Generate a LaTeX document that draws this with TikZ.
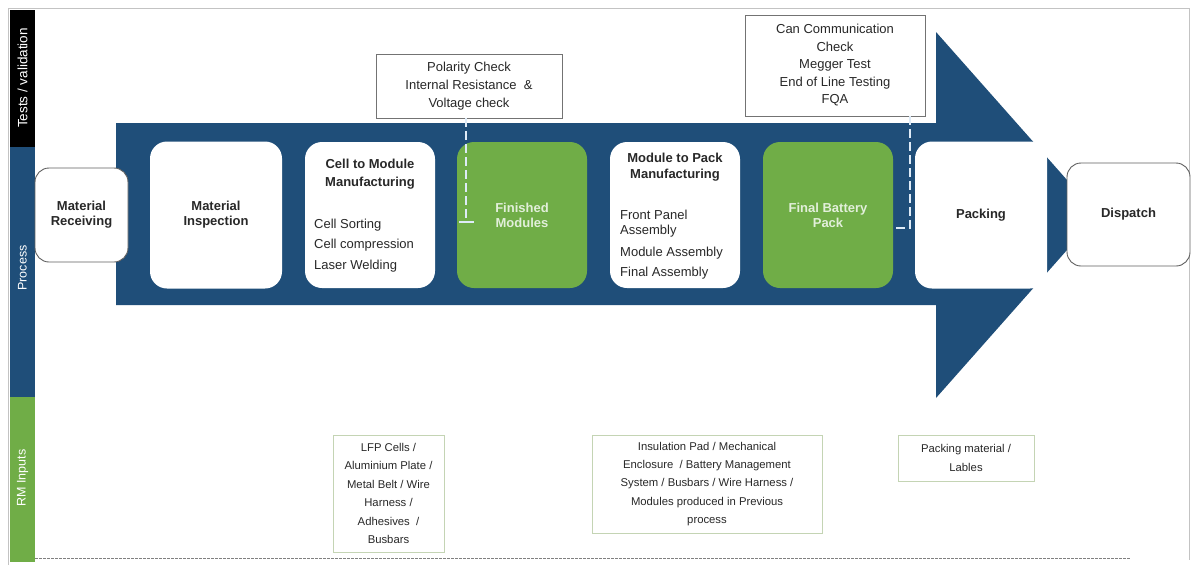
\documentclass[tikz,border=0pt]{standalone}
\usepackage{fontspec}
\setmainfont{Liberation Sans}
\usetikzlibrary{arrows.meta}
\definecolor{arrowblue}{RGB}{31,78,121}
\definecolor{leafgreen}{RGB}{112,173,71}
\definecolor{paletext}{RGB}{226,239,218}
\definecolor{framegray}{RGB}{195,195,195}
\definecolor{boxgray}{RGB}{95,95,95}
\definecolor{rmborder}{RGB}{196,212,180}
\definecolor{testborder}{RGB}{115,115,115}
\definecolor{dashblue}{RGB}{222,235,247}
\definecolor{textgray}{RGB}{40,40,40}
\begin{document}
\begin{tikzpicture}[x=1pt,y=-1pt,
  lanetext/.style={text=white,font=\fontsize{12.5}{14}\selectfont,rotate=90},
  procbox/.style={fill=white,rounded corners=17pt,inner sep=0pt,text=textgray,
    align=center,font=\bfseries\fontsize{13}{15}\selectfont},
  edgebox/.style={procbox,draw=boxgray,line width=0.9pt,rounded corners=14pt},
  greenbox/.style={procbox,fill=leafgreen,text=paletext},
  titletext/.style={text=textgray,align=center,font=\bfseries\fontsize{13}{18}\selectfont,inner sep=0pt},
  itemtext/.style={text=textgray,align=left,font=\fontsize{13}{20.5}\selectfont,inner sep=0pt},
  testbox/.style={draw=testborder,line width=0.9pt,fill=white,align=center,inner sep=0pt,
    text=textgray,font=\fontsize{13}{18}\selectfont},
  rmbox/.style={draw=rmborder,line width=0.9pt,fill=white,align=center,inner sep=0pt,
    text=textgray,font=\fontsize{11.3}{18.4}\selectfont},
  testline/.style={draw=dashblue,line width=1.6pt,dash pattern=on 9pt off 4pt}
]
\useasboundingbox (0,0) rectangle (1193,565);
\fill[white] (0,0) rectangle (1193,565);
% outer frame
\draw[framegray,line width=1pt] (8,565) -- (8,8) -- (1189,8) -- (1189,560);
% lane bars
\fill[black] (10,10) rectangle (35,147);
\fill[arrowblue] (10,147) rectangle (35,397);
\fill[leafgreen] (10,397) rectangle (35,562);
\node[lanetext,font=\fontsize{13.5}{15}\selectfont] (laneTests) at (22.5,78) {Tests / validation};
\node[lanetext] (laneProc) at (22.5,268) {Process};
\node[lanetext] (laneRM) at (22.5,478) {RM Inputs};
% bottom dashed line
\draw[gray,line width=0.8pt,dash pattern=on 2.5pt off 1.5pt] (35,558) -- (1130,558);
% big arrow
\fill[arrowblue] (116,123) -- (936,123) -- (936,32) -- (1098,215) -- (936,398) -- (936,305) -- (116,305) -- cycle;
% process boxes
\node[edgebox,minimum width=93pt,minimum height=94pt] (recv) at (81.5,215) {Material\\Receiving};
\node[procbox,minimum width=132pt,minimum height=147pt] (insp) at (216,215) {Material\\Inspection};
\node[procbox,minimum width=130pt,minimum height=146pt] (c2m) at (370,215) {};
\node[greenbox,minimum width=130pt,minimum height=146pt] (fin) at (522,215) {Finished\\Modules};
\node[procbox,minimum width=130pt,minimum height=146pt] (m2p) at (675,215) {};
\node[greenbox,minimum width=130pt,minimum height=146pt] (fbp) at (828,215) {Final Battery\\Pack};
\node[procbox,minimum width=132pt,minimum height=147pt] (pack) at (981,215) {Packing};
\node[edgebox,minimum width=123pt,minimum height=103pt] (disp) at (1128.5,214.5) {Dispatch};
% texts inside manufacturing boxes (base = last line)
\node[titletext,anchor=base] (c2mT) at (370,186) {Cell to Module\\Manufacturing};
\node[itemtext,anchor=base west] (c2mI) at (314,269) {Cell Sorting\\Cell compression\\Laser Welding};
\node[titletext,anchor=base,font=\bfseries\fontsize{13}{16}\selectfont] (m2pT) at (675,178) {Module to Pack\\Manufacturing};
\node[itemtext,anchor=base west,font=\fontsize{13}{15}\selectfont] (m2pI) at (620,276) {Front Panel\\Assembly\\[7pt]Module Assembly\\[5pt]Final Assembly};
% test boxes
\node[testbox,minimum width=186pt,minimum height=64pt] (pol) at (469,86) {Polarity Check\\Internal Resistance ~\&\\Voltage check};
\node[testbox,minimum width=180pt,minimum height=101pt,font=\fontsize{13}{17.5}\selectfont] (can) at (835,65.5) {Can Communication\\Check\\Megger Test\\End of Line Testing\\FQA};
% test connectors
\coordinate (polEnd) at (466,223);
\coordinate (canBend) at (910,228);
\draw[testline,-{Bar[width=15pt,line width=1.6pt]}] (pol.south -| polEnd) -- (polEnd);
\draw[testline] (can.south -| canBend) -- (canBend) -- (fbp.east |- canBend);
% RM input boxes
\node[rmbox,minimum width=111pt,minimum height=117pt] (rmA) at (388.5,493.5) {LFP Cells /\\Aluminium Plate /\\Metal Belt / Wire\\Harness /\\Adhesives ~/\\Busbars};
\node[rmbox,minimum width=230pt,minimum height=98pt] (rmB) at (707,484) {Insulation Pad / Mechanical\\Enclosure ~/ Battery Management\\System / Busbars / Wire Harness /\\Modules produced in Previous\\process};
\node[rmbox,minimum width=136pt,minimum height=46pt] (rmC) at (966,458) {Packing material /\\Lables};
\end{tikzpicture}
\end{document}
